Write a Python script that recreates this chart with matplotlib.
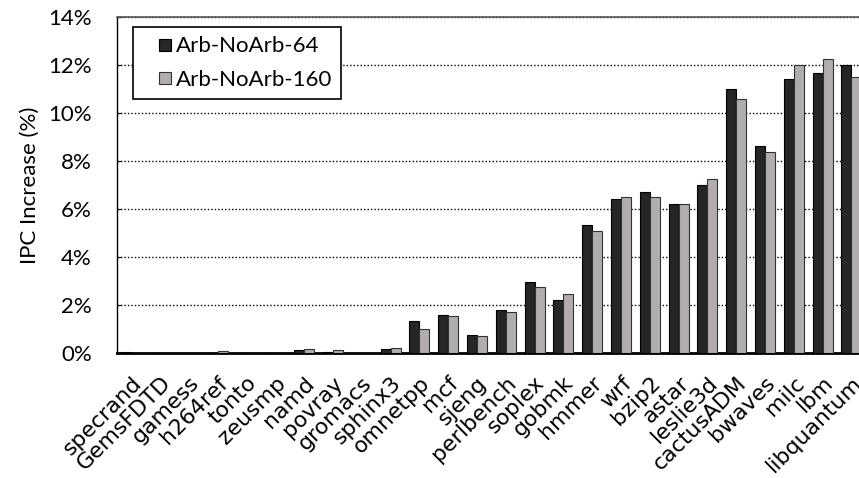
import numpy as np
import matplotlib
matplotlib.use('Agg')
from matplotlib import pyplot as plt
from matplotlib.patches import Rectangle
from matplotlib.legend_handler import HandlerPatch

plt.rcParams['font.family'] = ['Lato', 'DejaVu Sans']

benchmarks = ['specrand', 'GemsFDTD', 'gamess', 'h264ref', 'tonto', 'zeusmp',
              'namd', 'povray', 'gromacs', 'sphinx3', 'omnetpp', 'mcf', 'sjeng',
              'perlbench', 'soplex', 'gobmk', 'hmmer', 'wrf', 'bzip2', 'astar',
              'leslie3d', 'cactusADM', 'bwaves', 'milc', 'lbm', 'libquantum']

# IPC increase in percent
arb_64 = [0.05, 0.00, -0.05, 0.02, 0.02, 0.00, 0.12, 0.07, -0.04, 0.18,
          1.36, 1.60, 0.75, 1.82, 2.98, 2.23, 5.36, 6.42, 6.71, 6.21,
          7.00, 11.00, 8.62, 11.41, 11.67, 12.00]
arb_160 = [0.00, 0.00, -0.04, 0.10, 0.02, 0.00, 0.17, 0.14, -0.03, 0.23,
           1.00, 1.55, 0.74, 1.70, 2.74, 2.48, 5.10, 6.52, 6.52, 6.21,
           7.27, 10.59, 8.38, 12.00, 12.27, 11.50]

dark = '#262626'
light = '#b1adad'


def square_handle(legend, orig_handle, xdescent, ydescent, width, height, fontsize):
    # small square pushed to the right end of the handle box
    s = 0.54 * fontsize
    return Rectangle((-xdescent + width - s, -ydescent + (height - s) / 2), s, s)


fig = plt.figure(figsize=(8.59, 4.78), dpi=100)
ax = fig.add_axes([117/859, 1 - 353.3/478, 748.8/859, 336.3/478])

x = np.arange(len(benchmarks))
w = 0.35
ax.bar(x - w/2, arb_64, w, color=dark, edgecolor='black', linewidth=0.8, zorder=3)
ax.bar(x + w/2, arb_160, w, color=light, edgecolor='#333333', linewidth=0.8, zorder=3)

ax.set_xlim(-0.5, 25.5)
ax.set_ylim(0, 14)
ax.set_yticks(np.arange(0, 15, 2))
ax.set_yticklabels(['%d%%' % v for v in range(0, 15, 2)], fontsize=16)
ax.set_xticks(x)
ax.set_xticklabels(benchmarks, rotation=45, ha='right', rotation_mode='anchor',
                   fontsize=15.8, family='DejaVu Sans')
ax.tick_params(axis='x', length=0, pad=14)
ax.tick_params(axis='y', direction='in', length=3, pad=18)
ax.set_ylabel('IPC Increase (%)', fontsize=16, labelpad=6)

ax.grid(axis='y', linestyle=(0, (1, 1.5)), color='black', linewidth=1, zorder=0)
ax.set_axisbelow(True)
ax.spines['bottom'].set_linewidth(2)
ax.spines['left'].set_linewidth(1)
ax.spines['top'].set_linewidth(1.2)
ax.spines['top'].set_color('#555555')
ax.spines['right'].set_visible(False)

handles = [Rectangle((0, 0), 1, 1, facecolor=dark, edgecolor='black', linewidth=0.8),
           Rectangle((0, 0), 1, 1, facecolor=light, edgecolor='#333333', linewidth=0.8)]
leg = ax.legend(handles, ['Arb-NoArb-64', 'Arb-NoArb-160'],
                loc='upper left', bbox_to_anchor=(133/859, 1 - 27.5/478),
                bbox_transform=fig.transFigure, borderaxespad=0, fontsize=16,
                handler_map={Rectangle: HandlerPatch(patch_func=square_handle)},
                handlelength=1.3, handleheight=0.7, handletextpad=0.22,
                labelspacing=0.6, borderpad=0.4, fancybox=False,
                edgecolor='black', framealpha=1)
leg.get_frame().set_linewidth(1.2)

fig.savefig('out.png', dpi=100)
